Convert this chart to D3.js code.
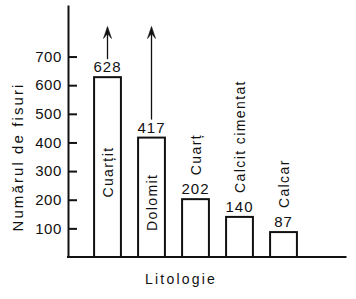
<!DOCTYPE html>
<html>
<head>
<meta charset="utf-8">
<script src="https://cdn.jsdelivr.net/npm/d3@7"></script>
<style>
  html, body { margin: 0; padding: 0; background: #fff; }
  svg { display: block; }
  text { font-family: "Liberation Sans", Arial, sans-serif; fill: #111; }
</style>
</head>
<body>
<svg id="chart" width="356" height="299"></svg>
<script>
const categories = ["Cuarțit", "Dolomit", "Cuarț", "Calcit cimentat", "Calcar"];
const values = [628, 417, 202, 140, 87];
// bars whose value goes off the top get an arrow and keep their name inside
const overflow = [true, true, false, false, false];
const yTicks = [100, 200, 300, 400, 500, 600, 700];
const yTitle = "Numărul de fisuri";
const xTitle = "Litologie";

const svg = d3.select("#chart");

const x = d3.scaleBand()
  .domain(categories)
  .range([85.5, 305.5])
  .paddingInner(0.39)
  .paddingOuter(0.195);

const y = d3.scaleLinear()
  .domain([0, 880])
  .range([257, 5]);

const data = categories.map((c, i) => ({ name: c, value: values[i], over: overflow[i] }));
const cx = d => x(d.name) + x.bandwidth() / 2;

// y axis, ticks pointing into the plot
const yAxis = svg.append("g")
  .attr("transform", "translate(68,0)")
  .call(d3.axisLeft(y)
    .tickValues(yTicks)
    .tickSizeInner(-9)
    .tickSizeOuter(0)
    .tickPadding(6));
yAxis.select(".domain").attr("stroke", "#111").attr("stroke-width", 2);
yAxis.selectAll(".tick line").attr("stroke", "#111").attr("stroke-width", 2);
yAxis.selectAll(".tick text")
  .attr("font-size", 15)
  .attr("font-family", "Liberation Sans, Arial, sans-serif")
  .attr("letter-spacing", 0.6)
  .attr("fill", "#111");

// baseline
svg.append("line")
  .attr("x1", 67).attr("x2", x.range()[1] + 41)
  .attr("y1", y(0)).attr("y2", y(0))
  .attr("stroke", "#111").attr("stroke-width", 2);

// bars
svg.selectAll("rect.bar")
  .data(data)
  .join("rect")
  .attr("class", "bar")
  .attr("x", d => x(d.name))
  .attr("y", d => y(d.value))
  .attr("width", x.bandwidth())
  .attr("height", d => y(0) - y(d.value))
  .attr("fill", "#fff")
  .attr("stroke", "#111")
  .attr("stroke-width", 2);

// value labels
svg.selectAll("text.val")
  .data(data)
  .join("text")
  .attr("class", "val")
  .attr("x", cx)
  .attr("y", d => y(d.value) - 5)
  .attr("text-anchor", "middle")
  .attr("font-size", 15)
  .attr("letter-spacing", 1)
  .text(d => d.value);

// arrows above the overflowing bars
const arrowTop = y(805);
const over = data.filter(d => d.over);
svg.selectAll("line.arrow")
  .data(over)
  .join("line")
  .attr("class", "arrow")
  .attr("x1", cx).attr("x2", cx)
  .attr("y1", d => y(d.value) - 18)
  .attr("y2", arrowTop + 4)
  .attr("stroke", "#111")
  .attr("stroke-width", 1.3);

svg.selectAll("path.head")
  .data(over)
  .join("path")
  .attr("class", "head")
  .attr("d", d => {
    const c = cx(d);
    return `M${c},${arrowTop} L${c + 4},${arrowTop + 12} L${c},${arrowTop + 7} L${c - 4},${arrowTop + 12} Z`;
  })
  .attr("fill", "#111")
  .attr("stroke", "#111")
  .attr("stroke-width", 0.6)
  .attr("stroke-linejoin", "round");

// rotated category names
svg.selectAll("text.cat")
  .data(data)
  .join("text")
  .attr("class", "cat")
  .attr("transform", d => {
    const cy = d.over ? (y(d.value) + y(0)) / 2 + 5 : y(d.value) - 24;
    return `translate(${cx(d)},${cy}) rotate(-90)`;
  })
  .attr("text-anchor", d => d.over ? "middle" : "start")
  .attr("dy", "0.36em")
  .attr("font-size", 14)
  .attr("letter-spacing", 1.4)
  .text(d => d.name);

// axis titles
svg.append("text")
  .attr("transform", "translate(18,157) rotate(-90)")
  .attr("text-anchor", "middle")
  .attr("dy", "0.36em")
  .attr("font-size", 15)
  .attr("letter-spacing", 2.1)
  .text(yTitle);

svg.append("text")
  .attr("x", 181)
  .attr("y", 284)
  .attr("text-anchor", "middle")
  .attr("font-size", 14)
  .attr("letter-spacing", 2.2)
  .text(xTitle);
</script>
</body>
</html>
